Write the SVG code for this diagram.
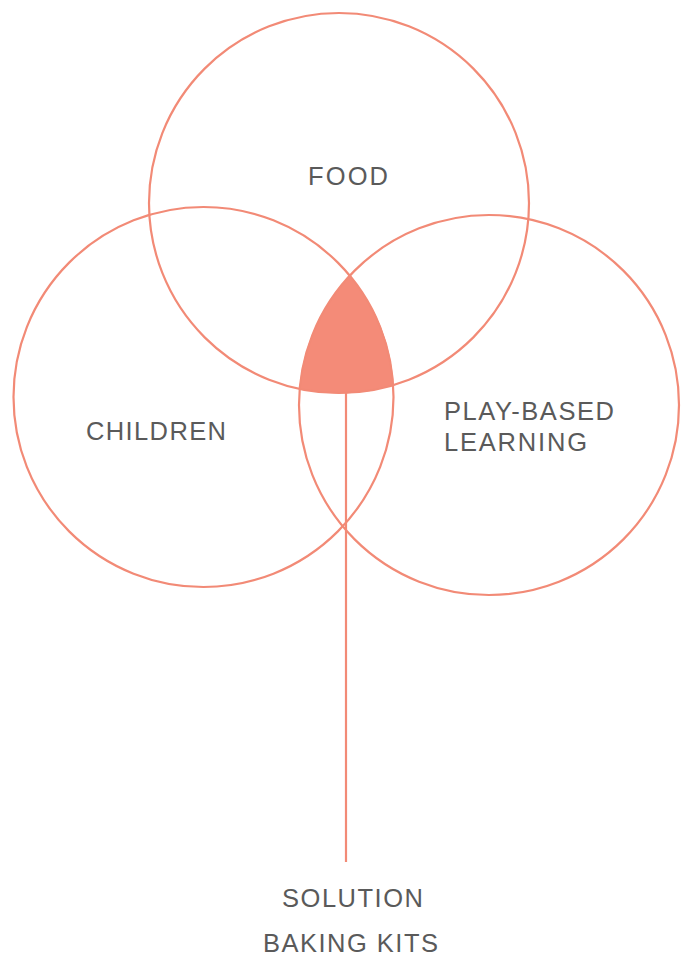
<svg xmlns="http://www.w3.org/2000/svg" width="682" height="967" viewBox="0 0 682 967">
  <style>
    .ring { fill: none; stroke: #F28A76; stroke-width: 2.2; }
    .core { fill: #F48B78; stroke: #F48B78; stroke-width: 1; }
    .stem { stroke: #F28A76; stroke-width: 2.2; fill: none; }
    .label { font-family: "Liberation Sans", Arial, sans-serif; font-size: 25.5px; fill: #5a5a5a; }
  </style>
  <rect width="682" height="967" fill="#ffffff"/>

  <!-- overlap of all three sets -->
  <g id="overlap">
    <path class="core" d="M 349.75 275.75 A 190 190 0 0 0 299.7 388.9 A 190 190 0 0 0 393.2 385.2 A 190 190 0 0 0 349.75 275.75 Z"/>
  </g>

  <g id="food">
    <circle class="ring" cx="339" cy="203" r="190"/>
    <text class="label" x="308" y="185" textLength="80" lengthAdjust="spacing">FOOD</text>
  </g>

  <g id="children">
    <circle class="ring" cx="203.5" cy="397" r="190"/>
    <text class="label" x="86" y="440" textLength="140" lengthAdjust="spacing">CHILDREN</text>
  </g>

  <g id="play-based-learning">
    <circle class="ring" cx="489" cy="405" r="190"/>
    <text class="label" x="444" y="420" textLength="170" lengthAdjust="spacing">PLAY-BASED</text>
    <text class="label" x="444" y="451" textLength="143" lengthAdjust="spacing">LEARNING</text>
  </g>

  <g id="connectors">
    <line class="stem" x1="346" y1="392" x2="346" y2="862"/>
  </g>

  <g id="solution">
    <text class="label" x="282" y="907" textLength="141" lengthAdjust="spacing">SOLUTION</text>
    <text class="label" x="263" y="952" textLength="175" lengthAdjust="spacing">BAKING KITS</text>
  </g>
</svg>
